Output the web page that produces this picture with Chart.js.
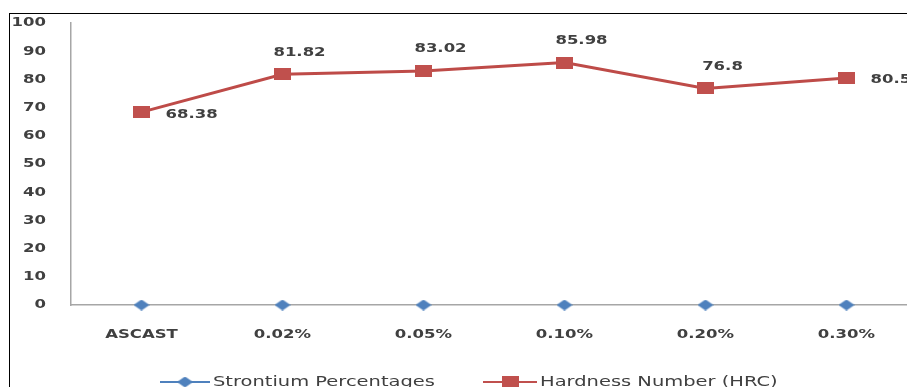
<!DOCTYPE html>
<html>
<head>
<meta charset="utf-8">
<script src="https://cdn.jsdelivr.net/npm/chart.js@4/dist/chart.umd.min.js"></script>
<style>
  html, body { margin: 0; padding: 0; background: #fff; overflow: hidden; width: 907px; height: 387px; }
  #wrap { position: absolute; left: 0; top: 0; width: 930px; height: 400px; }
  #frame { position: absolute; left: 9px; top: 13px; width: 1000px; height: 500px;
           border-left: 1px solid #000; border-top: 1px solid #000; pointer-events: none; }
</style>
</head>
<body>
<div id="wrap"><canvas id="c" width="930" height="400"></canvas></div>
<div id="frame"></div>
<script>
// ---- data ----
const categories = ['ASCAST', '0.02%', '0.05%', '0.10%', '0.20%', '0.30%'];
const strontiumValues = [0, 0, 0, 0, 0, 0];
const hardnessValues = [68.38, 81.82, 83.02, 85.98, 76.8, 80.5];
const seriesNames = ['Strontium Percentages', 'Hardness Number (HRC)'];
const yTicks = [0, 10, 20, 30, 40, 50, 60, 70, 80, 90, 100];

// ---- styles ----
const BLUE = '#4F81BD';
const RED = '#C0504D';
const TEXT = '#404040';
const FONT_FAMILY = "'DejaVu Sans', Verdana, sans-serif";
const TICK_FONT = 'bold 13px ' + FONT_FAMILY;
const LEGEND_FONT = '14px ' + FONT_FAMILY;
const STRETCH = 1.27;
const LEGEND_STRETCH = 1.39;
const labelPlacement = ['right', 'above', 'above', 'above', 'above', 'right'];

function makeSquare(w, h, color) {
  const c = document.createElement('canvas');
  c.width = w; c.height = h;
  const g = c.getContext('2d');
  g.fillStyle = color; g.fillRect(0, 0, w, h);
  return c;
}
function makeDiamond(w, h, color) {
  const c = document.createElement('canvas');
  c.width = w; c.height = h;
  const g = c.getContext('2d');
  g.fillStyle = color;
  g.beginPath();
  g.moveTo(w / 2, 0); g.lineTo(w, h / 2); g.lineTo(w / 2, h); g.lineTo(0, h / 2);
  g.closePath(); g.fill();
  return c;
}
const squareImg = makeSquare(17, 12, RED);
const diamondImg = makeDiamond(16, 11, BLUE);

// draw horizontally stretched text (reference glyphs are wide)
function wideText(ctx, text, x, y, align, font, sx) {
  ctx.save();
  ctx.font = font;
  ctx.fillStyle = TEXT;
  ctx.textBaseline = 'middle';
  ctx.textAlign = align;
  ctx.translate(x, y);
  ctx.scale(sx, 1);
  ctx.fillText(text, 0, 0);
  ctx.restore();
}

const textPlugin = {
  id: 'texts',
  afterDraw(chart) {
    const ctx = chart.ctx;
    const xs = chart.scales.x, ys = chart.scales.y;
    // y tick labels
    yTicks.forEach(v => wideText(ctx, String(v), 46, ys.getPixelForValue(v), 'right', TICK_FONT, STRETCH));
    // x tick labels
    categories.forEach((c, i) => wideText(ctx, c, xs.getPixelForValue(i), 335, 'center', TICK_FONT, STRETCH));
    // data labels
    const meta = chart.getDatasetMeta(1);
    meta.data.forEach((pt, i) => {
      const v = String(chart.data.datasets[1].data[i]);
      if (labelPlacement[i] === 'right') {
        wideText(ctx, v, pt.x + 24, pt.y + 2, 'left', TICK_FONT, STRETCH);
      } else {
        wideText(ctx, v, pt.x + 17, pt.y - 22, 'center', TICK_FONT, STRETCH);
      }
    });
    // legend (line + marker)
    const items = [
      { x0: 160, x1: 210, text: 213, img: diamondImg, color: BLUE, w: 16, h: 11 },
      { x0: 483, x1: 537, text: 540, img: squareImg, color: RED, w: 17, h: 12 }
    ];
    const y = 382;
    items.forEach((it, i) => {
      ctx.save();
      ctx.strokeStyle = it.color;
      ctx.lineWidth = 2;
      ctx.beginPath(); ctx.moveTo(it.x0, y); ctx.lineTo(it.x1, y); ctx.stroke();
      const cx = (it.x0 + it.x1) / 2;
      ctx.drawImage(it.img, cx - it.w / 2, y - it.h / 2);
      ctx.restore();
      wideText(ctx, chart.data.datasets[i].label, it.text, y, 'left', LEGEND_FONT, LEGEND_STRETCH);
    });
  }
};

new Chart(document.getElementById('c'), {
  type: 'line',
  data: {
    labels: categories,
    datasets: [
      {
        label: seriesNames[0],
        data: strontiumValues,
        borderColor: BLUE,
        backgroundColor: BLUE,
        borderWidth: 2,
        showLine: false,
        pointStyle: diamondImg,
        pointRadius: 7,
        clip: false
      },
      {
        label: seriesNames[1],
        data: hardnessValues,
        borderColor: '#BE4B48',
        backgroundColor: RED,
        borderWidth: 3,
        tension: 0,
        pointStyle: squareImg,
        pointRadius: 8,
        clip: false
      }
    ]
  },
  options: {
    responsive: false,
    animation: false,
    events: [],
    layout: { padding: { top: 23, right: 13, left: 0, bottom: 0 } },
    plugins: { legend: { display: false }, tooltip: { enabled: false } },
    scales: {
      x: {
        offset: true,
        grid: { display: false, drawTicks: false },
        border: { display: true, color: '#a6a6a6', width: 1.5 },
        ticks: { display: false },
        afterFit(s) { s.height = 95; }
      },
      y: {
        min: 0, max: 100,
        afterBuildTicks(s) { s.ticks = yTicks.map(v => ({ value: v })); },
        grid: { display: false, drawTicks: false },
        border: { display: true, color: '#a6a6a6', width: 1.5 },
        ticks: { display: false },
        afterFit(s) { s.width = 71; }
      }
    }
  },
  plugins: [textPlugin]
});
</script>
</body>
</html>
